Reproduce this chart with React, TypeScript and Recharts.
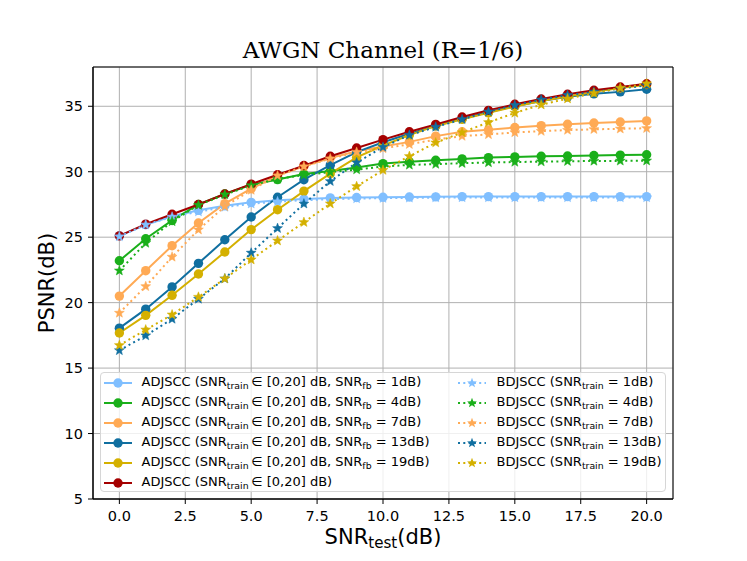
import { LineChart, Line, XAxis, YAxis, CartesianGrid, ReferenceArea } from 'recharts';

// SNR_test (dB)
const snrTest = [0, 1, 2, 3, 4, 5, 6, 7, 8, 9, 10, 11, 12, 13, 14, 15, 16, 17, 18, 19, 20];

// ADJSCC, SNR_train in [0,20] dB, with feedback SNR
const adjFb1 = [25.1, 25.95, 26.6, 27.05, 27.4, 27.66, 27.82, 27.92, 28.0, 28.03, 28.05, 28.07, 28.08, 28.1, 28.1, 28.1, 28.1, 28.1, 28.1, 28.1, 28.1];
const adjFb4 = [23.2, 24.88, 26.28, 27.5, 28.3, 29.0, 29.4, 29.83, 30.05, 30.33, 30.62, 30.76, 30.88, 30.98, 31.08, 31.13, 31.18, 31.2, 31.24, 31.27, 31.3];
const adjFb7 = [20.5, 22.44, 24.35, 26.08, 27.56, 28.7, 29.7, 30.42, 31.05, 31.56, 31.92, 32.28, 32.72, 33.05, 33.2, 33.38, 33.52, 33.63, 33.72, 33.8, 33.88];
const adjFb13 = [18.05, 19.5, 21.2, 23.0, 24.8, 26.54, 28.05, 29.39, 30.5, 31.5, 32.25, 32.9, 33.5, 34.05, 34.55, 35.0, 35.4, 35.72, 35.95, 36.1, 36.3];
const adjFb19 = [17.68, 19.03, 20.56, 22.19, 23.87, 25.58, 27.1, 28.52, 29.85, 31.1, 32.0, 32.8, 33.5, 34.0, 34.5, 34.98, 35.4, 35.75, 36.1, 36.4, 36.65];
const adjFull = [25.1, 26.0, 26.75, 27.5, 28.3, 29.05, 29.77, 30.47, 31.18, 31.81, 32.45, 33.05, 33.62, 34.18, 34.69, 35.15, 35.55, 35.92, 36.22, 36.47, 36.72];

// BDJSCC, trained at one SNR
const bd1 = [25.05, 25.95, 26.55, 26.95, 27.3, 27.55, 27.72, 27.82, 27.9, 27.95, 27.98, 28.0, 28.02, 28.03, 28.03, 28.03, 28.03, 28.03, 28.03, 28.03, 28.03];
const bd4 = [22.44, 24.55, 26.2, 27.45, 28.25, 28.95, 29.45, 29.75, 29.97, 30.16, 30.4, 30.52, 30.58, 30.65, 30.7, 30.74, 30.77, 30.8, 30.82, 30.83, 30.84];
const bd7 = [19.21, 21.24, 23.49, 25.57, 27.35, 28.6, 29.7, 30.4, 31.0, 31.5, 31.78, 32.1, 32.45, 32.72, 32.85, 33.0, 33.1, 33.18, 33.24, 33.28, 33.32];
const bd13 = [16.35, 17.48, 18.75, 20.28, 21.83, 23.8, 25.68, 27.55, 29.27, 30.7, 31.88, 32.8, 33.42, 34.0, 34.58, 35.08, 35.5, 35.85, 36.1, 36.35, 36.6];
const bd19 = [16.74, 17.93, 19.08, 20.43, 21.83, 23.28, 24.73, 26.14, 27.56, 28.88, 30.12, 31.18, 32.22, 33.0, 33.77, 34.49, 35.12, 35.58, 36.0, 36.4, 36.73];

const xTicks = [0, 2.5, 5, 7.5, 10, 12.5, 15, 17.5, 20];
const yTicks = [5, 10, 15, 20, 25, 30, 35];

const C_LIGHTBLUE = '#80bfff';
const C_GREEN = '#1aaf1a';
const C_ORANGE = '#ffaa55';
const C_BLUE = '#106fa0';
const C_YELLOW = '#d4b000';
const C_RED = '#a50000';

type Marker = 'circle' | 'star';

interface SeriesDef {
  key: string;
  values: number[];
  color: string;
  marker: Marker;
  family: 'adj' | 'bd';
  snr?: string; // fb snr for adj, train snr for bd
}

const adjSeries: SeriesDef[] = [
  { key: 'adj1', values: adjFb1, color: C_LIGHTBLUE, marker: 'circle', family: 'adj', snr: '1dB' },
  { key: 'adj4', values: adjFb4, color: C_GREEN, marker: 'circle', family: 'adj', snr: '4dB' },
  { key: 'adj7', values: adjFb7, color: C_ORANGE, marker: 'circle', family: 'adj', snr: '7dB' },
  { key: 'adj13', values: adjFb13, color: C_BLUE, marker: 'circle', family: 'adj', snr: '13dB' },
  { key: 'adj19', values: adjFb19, color: C_YELLOW, marker: 'circle', family: 'adj', snr: '19dB' },
  { key: 'adjAll', values: adjFull, color: C_RED, marker: 'circle', family: 'adj' },
];

const bdSeries: SeriesDef[] = [
  { key: 'bd1', values: bd1, color: C_LIGHTBLUE, marker: 'star', family: 'bd', snr: '1dB' },
  { key: 'bd4', values: bd4, color: C_GREEN, marker: 'star', family: 'bd', snr: '4dB' },
  { key: 'bd7', values: bd7, color: C_ORANGE, marker: 'star', family: 'bd', snr: '7dB' },
  { key: 'bd13', values: bd13, color: C_BLUE, marker: 'star', family: 'bd', snr: '13dB' },
  { key: 'bd19', values: bd19, color: C_YELLOW, marker: 'star', family: 'bd', snr: '19dB' },
];

const allSeries = [...adjSeries, ...bdSeries];

const data = snrTest.map((snr, i) => {
  const row: Record<string, number> = { snr };
  allSeries.forEach((s) => {
    row[s.key] = s.values[i];
  });
  return row;
});

const FONT = '"DejaVu Sans", sans-serif';

function starPath(cx: number, cy: number, R: number, r: number) {
  const pts: string[] = [];
  for (let k = 0; k < 10; k++) {
    const rad = k % 2 === 0 ? R : r;
    const a = -Math.PI / 2 + (k * Math.PI) / 5;
    pts.push(`${cx + rad * Math.cos(a)},${cy + rad * Math.sin(a)}`);
  }
  return pts.join(' ');
}

function makeStarDot(color: string) {
  return (props: any) => {
    const { cx, cy, index } = props;
    if (cx == null || cy == null) return <g key={`s-${index}`} />;
    return <polygon key={`s-${index}`} points={starPath(cx, cy, 5.2, 2.2)} fill={color} stroke={color} strokeWidth={0.5} />;
  };
}

const Sub = ({ children }: { children: string }) => (
  <span style={{ fontSize: '0.72em', position: 'relative', top: '0.3em' }}>{children}</span>
);

function LegendLabel({ s }: { s: SeriesDef }) {
  if (s.family === 'bd') {
    return (
      <span>
        BDJSCC (SNR<Sub>train</Sub> = {s.snr})
      </span>
    );
  }
  if (!s.snr) {
    return (
      <span>
        ADJSCC (SNR<Sub>train</Sub>{'\u2009'}∈ [0,20] dB)
      </span>
    );
  }
  return (
    <span>
      ADJSCC (SNR<Sub>train</Sub>{'\u2009'}∈ [0,20] dB, SNR<Sub>fb</Sub> = {s.snr})
    </span>
  );
}

function LegendHandle({ s }: { s: SeriesDef }) {
  return (
    <svg width={30} height={14} style={{ display: 'block' }}>
      <line
        x1={1}
        y1={7}
        x2={29}
        y2={7}
        stroke={s.color}
        strokeWidth={2}
        strokeDasharray={s.marker === 'star' ? '2 3.3' : undefined}
      />
      {s.marker === 'circle' ? (
        <circle cx={15} cy={7} r={4.7} fill={s.color} />
      ) : (
        <polygon points={starPath(15, 7, 5.2, 2.2)} fill={s.color} />
      )}
    </svg>
  );
}

function LegendBox() {
  const rowY = (i: number) => 9.5 + i * 19.95;
  return (
    <div
      style={{
        position: 'absolute',
        left: 99.5,
        top: 372.3,
        width: 566,
        height: 120,
        boxSizing: 'border-box',
        border: '1px solid #d6d6d6',
        borderRadius: 4,
        background: 'rgba(255,255,255,0.8)',
        fontFamily: FONT,
        fontSize: 13,
        color: '#000',
      }}
    >
      {adjSeries.map((s, i) => (
        <div key={s.key} style={{ position: 'absolute', left: 2.5, top: rowY(i) - 8, height: 16, display: 'flex', alignItems: 'center', whiteSpace: 'nowrap' }}>
          <LegendHandle s={s} />
          <div style={{ marginLeft: 8.5, lineHeight: '16px' }}>
            <LegendLabel s={s} />
          </div>
        </div>
      ))}
      {bdSeries.map((s, i) => (
        <div key={s.key} style={{ position: 'absolute', left: 356.5, top: rowY(i) - 8, height: 16, display: 'flex', alignItems: 'center', whiteSpace: 'nowrap' }}>
          <LegendHandle s={s} />
          <div style={{ marginLeft: 9.5, lineHeight: '16px' }}>
            <LegendLabel s={s} />
          </div>
        </div>
      ))}
    </div>
  );
}

const tickStyle = { fill: '#000', fontSize: 14.5, fontFamily: FONT };

export default function App() {
  return (
    <div style={{ position: 'absolute', left: 0, top: 0, width: 747, height: 561, background: '#fff', fontFamily: FONT }}>
      <LineChart width={747} height={561} data={data} margin={{ top: 67, right: 74, bottom: 32, left: 0 }}>
        <CartesianGrid stroke="#b0b0b0" strokeWidth={1} />
        <XAxis
          dataKey="snr"
          type="number"
          domain={[-1, 21]}
          ticks={xTicks}
          tickFormatter={(v: number) => v.toFixed(1)}
          tick={tickStyle}
          tickLine={{ stroke: '#000' }}
          tickSize={5}
          tickMargin={7}
          axisLine={{ stroke: '#000' }}
          height={30}
          allowDataOverflow
        />
        <YAxis
          type="number"
          domain={[5, 38]}
          ticks={yTicks}
          tick={tickStyle}
          tickLine={{ stroke: '#000' }}
          tickSize={5}
          tickMargin={5}
          axisLine={{ stroke: '#000' }}
          width={93}
          allowDataOverflow
        />
        <ReferenceArea x1={-1} x2={21} y1={5} y2={38} fill="none" fillOpacity={0} stroke="#000" strokeWidth={1} ifOverflow="visible" />
        {adjSeries.map((s) => (
          <Line
            key={s.key}
            type="linear"
            dataKey={s.key}
            stroke={s.color}
            strokeWidth={2}
            dot={{ r: 4.7, fill: s.color, stroke: s.color, strokeWidth: 0 }}
            activeDot={false}
            isAnimationActive={false}
          />
        ))}
        {bdSeries.map((s) => (
          <Line
            key={s.key}
            type="linear"
            dataKey={s.key}
            stroke={s.color}
            strokeWidth={2}
            strokeDasharray="2 3.3"
            dot={makeStarDot(s.color)}
            activeDot={false}
            isAnimationActive={false}
          />
        ))}
      </LineChart>
      <div
        style={{
          position: 'absolute',
          left: 383,
          top: 38.5,
          transform: 'translateX(-50%)',
          fontFamily: '"DejaVu Serif", serif',
          fontSize: 23,
          lineHeight: '23px',
          whiteSpace: 'nowrap',
        }}
      >
        AWGN Channel (R=1/6)
      </div>
      <div
        style={{
          position: 'absolute',
          left: 383,
          top: 526.5,
          transform: 'translateX(-50%)',
          fontSize: 21,
          lineHeight: '21px',
          whiteSpace: 'nowrap',
        }}
      >
        SNR<Sub>test</Sub>(dB)
      </div>
      <div
        style={{
          position: 'absolute',
          left: 46.7,
          top: 283,
          transform: 'translate(-50%, -50%) rotate(-90deg)',
          fontSize: 21,
          lineHeight: '21px',
          whiteSpace: 'nowrap',
        }}
      >
        PSNR(dB)
      </div>
      <LegendBox />
    </div>
  );
}
